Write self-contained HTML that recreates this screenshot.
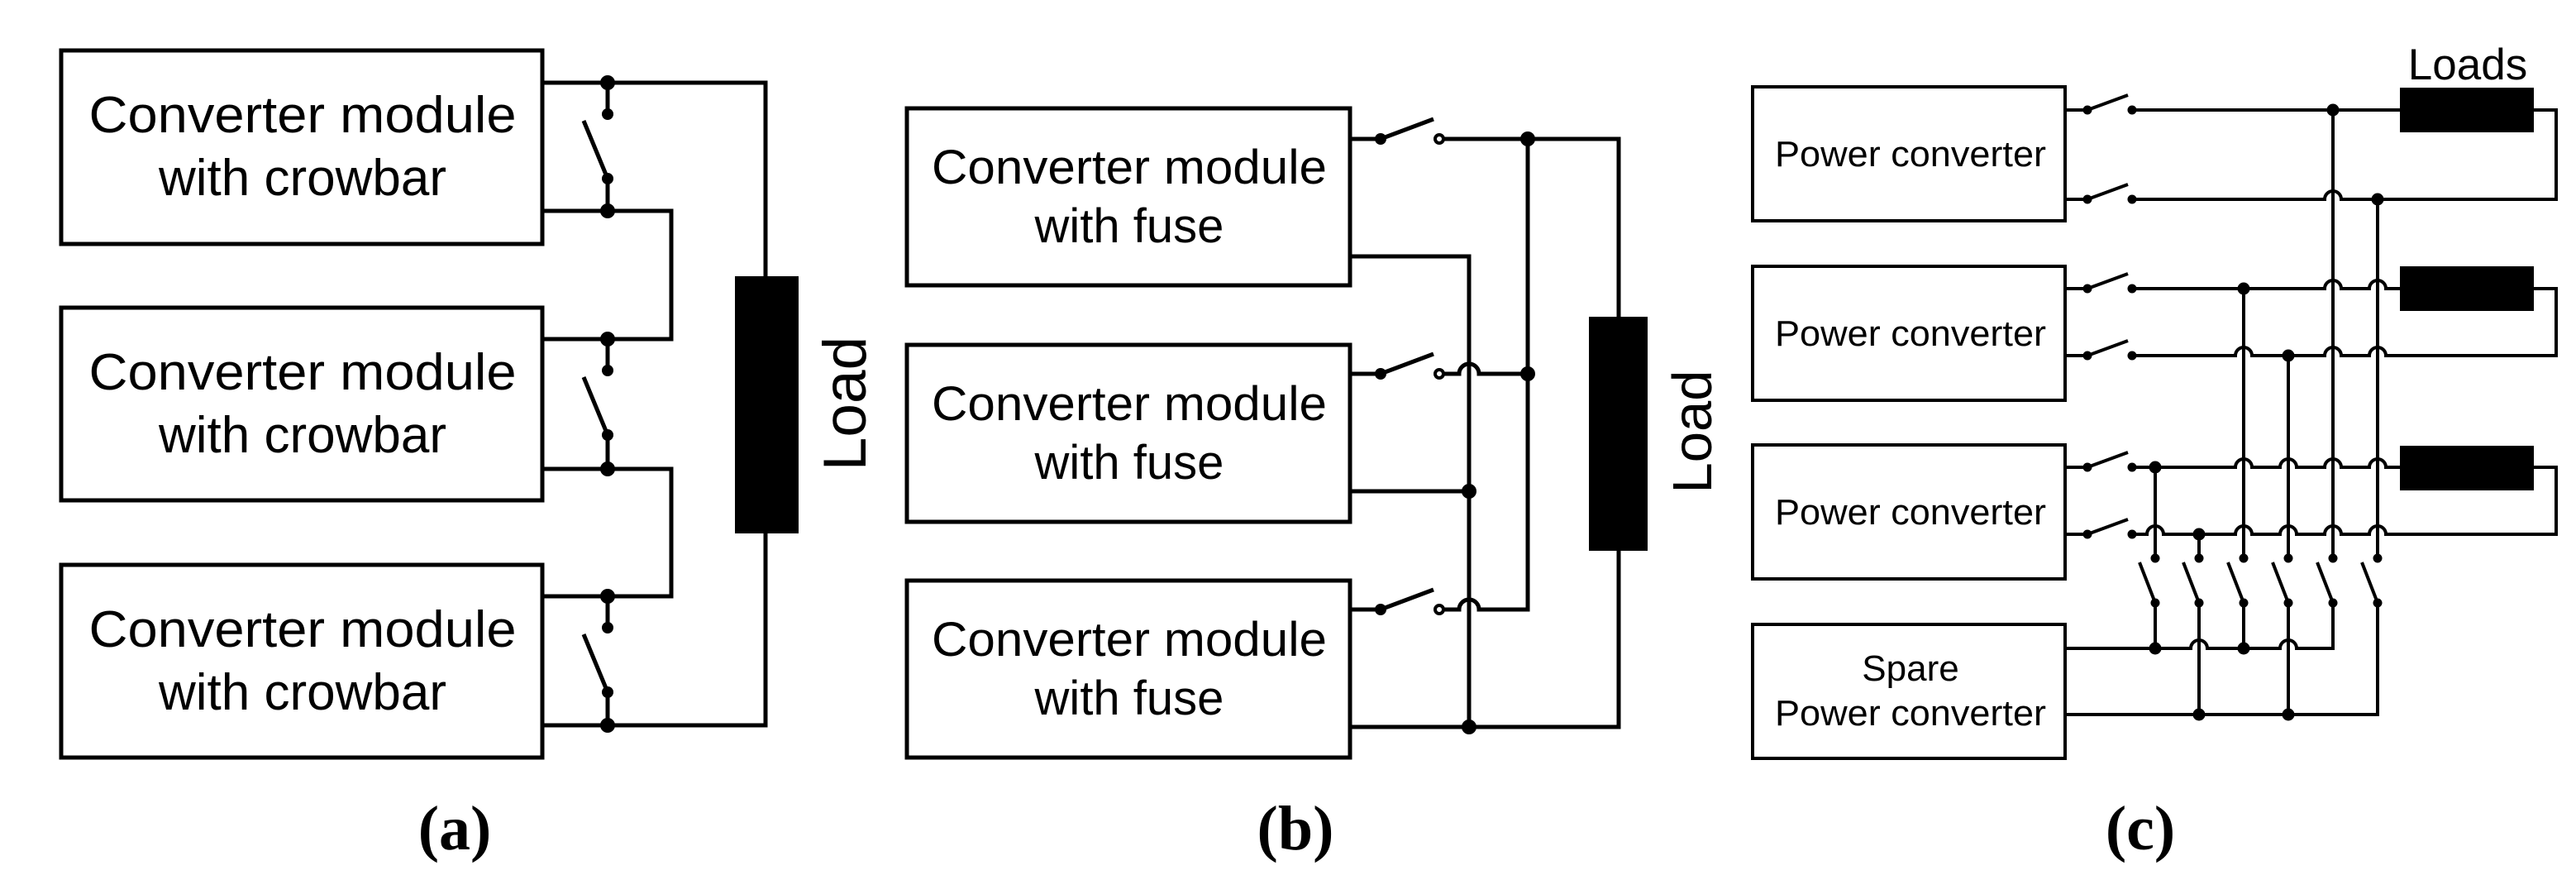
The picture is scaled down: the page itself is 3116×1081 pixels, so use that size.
<!DOCTYPE html>
<html><head><meta charset="utf-8"><style>
html,body{margin:0;padding:0;background:#fff}
svg{display:block}
text{font-family:"Liberation Sans",Arial,sans-serif;fill:#000}
.lbl{font-family:"Liberation Serif",serif;font-weight:bold}
</style></head><body>
<svg width="3116" height="1081" viewBox="0 0 3116 1081" xmlns="http://www.w3.org/2000/svg">
<g fill="none" stroke="#000" stroke-width="5">
<rect x="74" y="61" width="582" height="234"/>
<rect x="74" y="372" width="582" height="233"/>
<rect x="74" y="683" width="582" height="233"/>
<polyline points="656,100 926,100 926,334"/>
<polyline points="926,645 926,877 656,877"/>
<polyline points="656,255 812,255 812,410 656,410"/>
<polyline points="656,567 812,567 812,721 656,721"/>
<line x1="735" y1="100" x2="735" y2="138"/><line x1="706" y1="146" x2="735" y2="216"/><line x1="735" y1="216" x2="735" y2="255"/>
<line x1="735" y1="410" x2="735" y2="448"/><line x1="706" y1="456" x2="735" y2="526"/><line x1="735" y1="526" x2="735" y2="567"/>
<line x1="735" y1="721" x2="735" y2="759"/><line x1="706" y1="767" x2="735" y2="837"/><line x1="735" y1="837" x2="735" y2="877"/>

<rect x="1097" y="131" width="536" height="214"/>
<rect x="1097" y="417" width="536" height="214"/>
<rect x="1097" y="702" width="536" height="214"/>
<line x1="1633" y1="168" x2="1670" y2="168"/><line x1="1670" y1="168" x2="1734" y2="144"/>
<line x1="1633" y1="452" x2="1670" y2="452"/><line x1="1670" y1="452" x2="1734" y2="428"/>
<line x1="1633" y1="737" x2="1670" y2="737"/><line x1="1670" y1="737" x2="1734" y2="713"/>
<polyline points="1747,168 1958,168 1958,383"/>
<polyline points="1958,666 1958,879 1633,879"/>
<path d="M1747,452 H1765 A12,12 0 0 1 1789,452 H1848"/>
<path d="M1747,737 H1765 A12,12 0 0 1 1789,737 H1848 V168"/>
<polyline points="1633,310 1777,310 1777,879"/>
<line x1="1633" y1="594" x2="1777" y2="594"/>
</g>
<g fill="#000">
<rect x="889" y="334" width="77" height="311"/>
<circle cx="735" cy="100" r="9"/><circle cx="735" cy="138" r="7"/><circle cx="735" cy="216" r="7"/><circle cx="735" cy="255" r="9"/>
<circle cx="735" cy="410" r="9"/><circle cx="735" cy="448" r="7"/><circle cx="735" cy="526" r="7"/><circle cx="735" cy="567" r="9"/>
<circle cx="735" cy="721" r="9"/><circle cx="735" cy="759" r="7"/><circle cx="735" cy="837" r="7"/><circle cx="735" cy="877" r="9"/>
<rect x="1922" y="383" width="71" height="283"/>
<circle cx="1670" cy="168" r="7"/><circle cx="1670" cy="452" r="7"/><circle cx="1670" cy="737" r="7"/>
<circle cx="1848" cy="168" r="9"/><circle cx="1848" cy="452" r="9"/>
<circle cx="1777" cy="594" r="9"/><circle cx="1777" cy="879" r="9"/>
</g>
<g fill="#fff" stroke="#000" stroke-width="4">
<circle cx="1741" cy="168" r="5"/><circle cx="1741" cy="452" r="5"/><circle cx="1741" cy="737" r="5"/>
</g>

<g fill="none" stroke="#000" stroke-width="4">
<rect x="2120" y="105" width="378" height="162"/>
<rect x="2120" y="322" width="378" height="162"/>
<rect x="2120" y="538" width="378" height="162"/>
<rect x="2120" y="755" width="378" height="162"/>
<line x1="2498" y1="133" x2="2525" y2="133"/><line x1="2525" y1="133" x2="2574" y2="115"/>
<line x1="2498" y1="241" x2="2525" y2="241"/><line x1="2525" y1="241" x2="2574" y2="223"/>
<line x1="2498" y1="349" x2="2525" y2="349"/><line x1="2525" y1="349" x2="2574" y2="331"/>
<line x1="2498" y1="430" x2="2525" y2="430"/><line x1="2525" y1="430" x2="2574" y2="412"/>
<line x1="2498" y1="565" x2="2525" y2="565"/><line x1="2525" y1="565" x2="2574" y2="547"/>
<line x1="2498" y1="646" x2="2525" y2="646"/><line x1="2525" y1="646" x2="2574" y2="628"/>
<line x1="2579" y1="133" x2="2903" y2="133"/>
<path d="M3065,133 H3092 V241 H2832 A10,10 0 0 0 2812,241 H2579"/>
<path d="M2579,349 H2812 A10,10 0 0 1 2832,349 H2866 A10,10 0 0 1 2886,349 H2903"/>
<path d="M3065,349 H3092 V430 H2886 A10,10 0 0 0 2866,430 H2832 A10,10 0 0 0 2812,430 H2724 A10,10 0 0 0 2704,430 H2579"/>
<path d="M2579,565 H2704 A10,10 0 0 1 2724,565 H2758 A10,10 0 0 1 2778,565 H2812 A10,10 0 0 1 2832,565 H2866 A10,10 0 0 1 2886,565 H2903"/>
<path d="M3065,565 H3092 V646 H2886 A10,10 0 0 0 2866,646 H2832 A10,10 0 0 0 2812,646 H2778 A10,10 0 0 0 2758,646 H2724 A10,10 0 0 0 2704,646 H2617 A10,10 0 0 0 2597,646 H2579"/>
<line x1="2607" y1="565" x2="2607" y2="675"/>
<line x1="2660" y1="646" x2="2660" y2="675"/>
<line x1="2714" y1="349" x2="2714" y2="675"/>
<line x1="2768" y1="430" x2="2768" y2="675"/>
<line x1="2822" y1="133" x2="2822" y2="675"/>
<line x1="2876" y1="241" x2="2876" y2="675"/>
<line x1="2588" y1="680" x2="2607" y2="729"/>
<line x1="2641" y1="680" x2="2660" y2="729"/>
<line x1="2695" y1="680" x2="2714" y2="729"/>
<line x1="2749" y1="680" x2="2768" y2="729"/>
<line x1="2803" y1="680" x2="2822" y2="729"/>
<line x1="2857" y1="680" x2="2876" y2="729"/>
<line x1="2607" y1="729" x2="2607" y2="784"/>
<line x1="2660" y1="729" x2="2660" y2="864"/>
<line x1="2714" y1="729" x2="2714" y2="784"/>
<line x1="2768" y1="729" x2="2768" y2="864"/>
<path d="M2498,784 H2650 A10,10 0 0 1 2670,784 H2758 A10,10 0 0 1 2778,784 H2822 V729"/>
<path d="M2498,864 H2876 V729"/>
</g>
<g fill="#000">
<rect x="2903" y="106" width="162" height="54"/>
<rect x="2903" y="322" width="162" height="54"/>
<rect x="2903" y="539" width="162" height="54"/>
<circle cx="2525" cy="133" r="5.5"/><circle cx="2579" cy="133" r="5.5"/>
<circle cx="2525" cy="241" r="5.5"/><circle cx="2579" cy="241" r="5.5"/>
<circle cx="2525" cy="349" r="5.5"/><circle cx="2579" cy="349" r="5.5"/>
<circle cx="2525" cy="430" r="5.5"/><circle cx="2579" cy="430" r="5.5"/>
<circle cx="2525" cy="565" r="5.5"/><circle cx="2579" cy="565" r="5.5"/>
<circle cx="2525" cy="646" r="5.5"/><circle cx="2579" cy="646" r="5.5"/>
<circle cx="2822" cy="133" r="7.5"/><circle cx="2876" cy="241" r="7.5"/>
<circle cx="2714" cy="349" r="7.5"/><circle cx="2768" cy="430" r="7.5"/>
<circle cx="2607" cy="565" r="7.5"/><circle cx="2660" cy="646" r="7.5"/>
<circle cx="2607" cy="675" r="5.5"/><circle cx="2660" cy="675" r="5.5"/><circle cx="2714" cy="675" r="5.5"/>
<circle cx="2768" cy="675" r="5.5"/><circle cx="2822" cy="675" r="5.5"/><circle cx="2876" cy="675" r="5.5"/>
<circle cx="2607" cy="729" r="5.5"/><circle cx="2660" cy="729" r="5.5"/><circle cx="2714" cy="729" r="5.5"/>
<circle cx="2768" cy="729" r="5.5"/><circle cx="2822" cy="729" r="5.5"/><circle cx="2876" cy="729" r="5.5"/>
<circle cx="2607" cy="784" r="7.5"/><circle cx="2714" cy="784" r="7.5"/>
<circle cx="2660" cy="864" r="7.5"/><circle cx="2768" cy="864" r="7.5"/>
</g>

<g font-size="62" text-anchor="middle">
<text x="366" y="160" textLength="517" lengthAdjust="spacingAndGlyphs">Converter module</text>
<text x="366" y="236">with crowbar</text>
<text x="366" y="471" textLength="517" lengthAdjust="spacingAndGlyphs">Converter module</text>
<text x="366" y="547">with crowbar</text>
<text x="366" y="782" textLength="517" lengthAdjust="spacingAndGlyphs">Converter module</text>
<text x="366" y="858">with crowbar</text>
</g>
<text font-size="73" text-anchor="middle" transform="translate(1047,488) rotate(-90)">Load</text>
<g font-size="58" text-anchor="middle">
<text x="1366" y="222" textLength="478" lengthAdjust="spacingAndGlyphs">Converter module</text>
<text x="1366" y="293">with fuse</text>
<text x="1366" y="508" textLength="478" lengthAdjust="spacingAndGlyphs">Converter module</text>
<text x="1366" y="579">with fuse</text>
<text x="1366" y="793" textLength="478" lengthAdjust="spacingAndGlyphs">Converter module</text>
<text x="1366" y="864">with fuse</text>
</g>
<text font-size="67" text-anchor="middle" transform="translate(2070,522) rotate(-90)">Load</text>
<g font-size="44" text-anchor="middle">
<text x="2311" y="201" textLength="328" lengthAdjust="spacingAndGlyphs">Power converter</text>
<text x="2311" y="418" textLength="328" lengthAdjust="spacingAndGlyphs">Power converter</text>
<text x="2311" y="634" textLength="328" lengthAdjust="spacingAndGlyphs">Power converter</text>
<text x="2311" y="823">Spare</text>
<text x="2311" y="877" textLength="328" lengthAdjust="spacingAndGlyphs">Power converter</text>
</g>
<text x="2985" y="96" font-size="53" text-anchor="middle">Loads</text>
<g font-size="76" text-anchor="middle">
<text x="550" y="1027" class="lbl">(a)</text>
<text x="1567" y="1027" class="lbl">(b)</text>
<text x="2589" y="1027" class="lbl">(c)</text>
</g>
</svg>
</body></html>
